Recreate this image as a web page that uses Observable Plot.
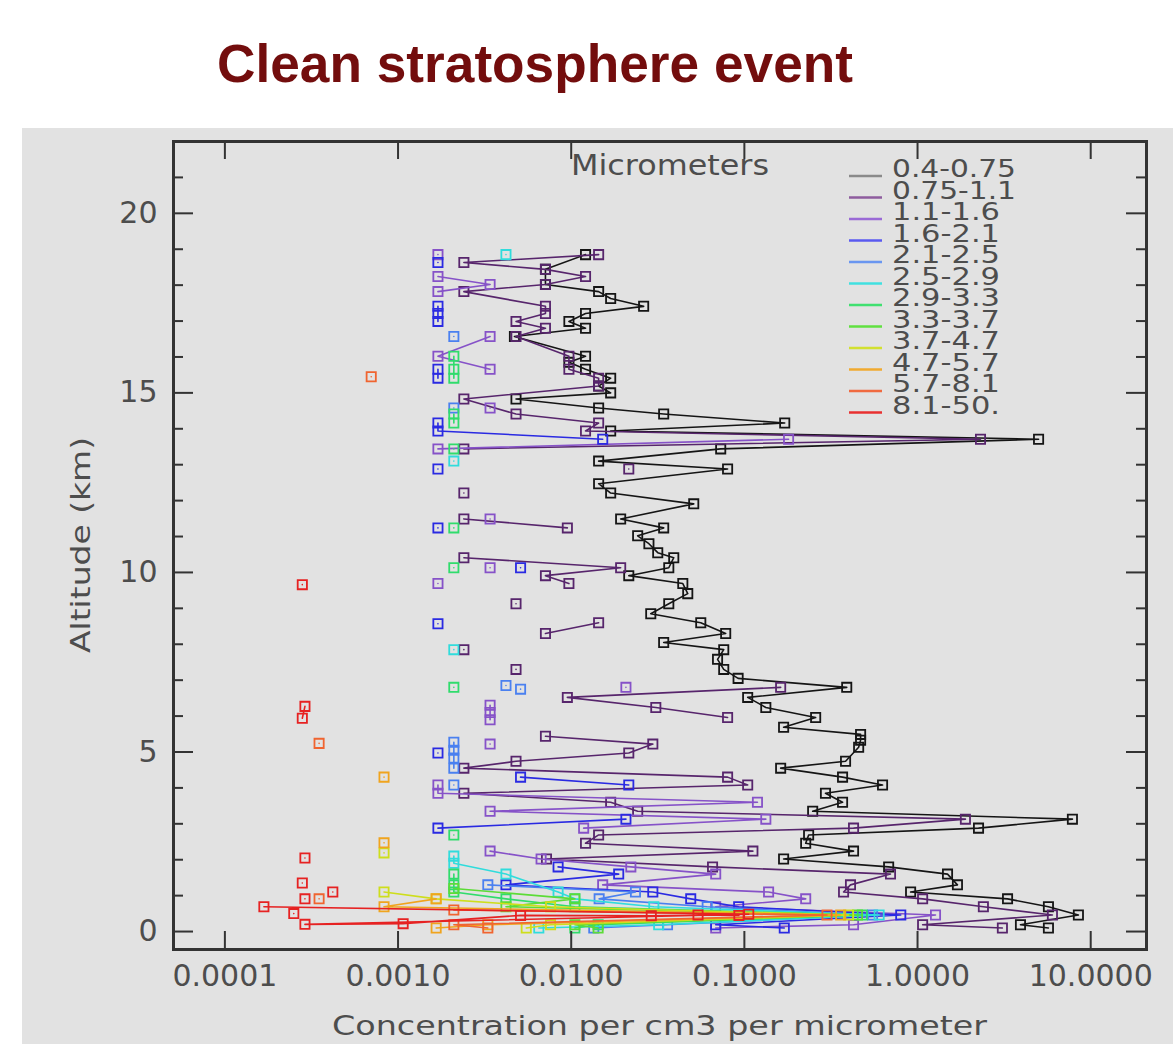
<!DOCTYPE html>
<html>
<head>
<meta charset="utf-8">
<script src="https://cdn.jsdelivr.net/npm/d3@7"></script>
<script src="https://cdn.jsdelivr.net/npm/@observablehq/plot@0.6"></script>
<style>
  html, body { margin: 0; padding: 0; background: #ffffff; overflow: hidden; }
  #wrap { position: relative; width: 1173px; height: 1044px; }
  #title { position: absolute; left: 0; top: 0; }
  #panel { position: absolute; left: 22px; top: 128px; width: 1151px; height: 916px; background: #e2e2e2; }
</style>
</head>
<body>
<div id="wrap">
  <svg id="title" width="1173" height="128">
    <text x="217" y="82" textLength="636" lengthAdjust="spacingAndGlyphs"
      style="font-family:'Liberation Sans',Arial,sans-serif;font-weight:bold;font-size:54px;fill:#730d0d">Clean stratosphere event</text>
  </svg>
  <div id="panel"></div>
</div>
<script>
// ---- size bins (micrometers) ----
const bins = ["0.4-0.75","0.75-1.1","1.1-1.6","1.6-2.1","2.1-2.5","2.5-2.9","2.9-3.3","3.3-3.7","3.7-4.7","4.7-5.7","5.7-8.1","8.1-50."];

// ---- series: [altitude km, concentration per cm3 per micrometer]; null = gap ----
const s0 = [[18.85,0.0121],[18.44,0.0071],[18.02,0.0071],[17.82,0.0144],[17.63,0.0169],[17.41,0.0262],[17.21,0.0121],[16.99,0.0097],[16.8,0.0121],[16.57,0.0047],[16.02,0.0121],[15.85,0.0097],[15.66,0.0121],[15.41,0.0169],[15.19,0.0144],[15.0,0.0169],[14.83,0.0048],[14.58,0.0144],[14.41,0.0342],[14.16,0.171],[13.94,0.0169],[13.71,5.0],[13.44,0.073],[13.1,0.0144],[12.88,0.080],[12.47,0.0144],[12.21,0.0169],[11.91,0.051],[11.49,0.0193],[11.24,0.0342],[11.02,0.0242],[10.8,0.0281],[10.55,0.0316],[10.41,0.0391],[10.13,0.0366],[9.91,0.0215],[9.69,0.0441],[9.41,0.0471],[9.13,0.0366],[8.85,0.0288],[8.6,0.056],[8.3,0.078],[8.05,0.0342],[7.85,0.076],[7.58,0.070],[7.3,0.076],[7.05,0.092],[6.8,0.39],[6.52,0.1045],[6.24,0.133],[5.96,0.258],[5.69,0.1685],[5.49,0.469],[5.33,0.469],[5.13,0.457],[4.74,0.384],[4.55,0.162],[4.3,0.369],[4.08,0.628],[3.85,0.294],[3.6,0.369],[3.35,0.248],[3.13,7.84],[2.88,2.25],[2.69,0.235],[2.46,0.226],[2.24,0.427],[2.02,0.1685],[1.8,0.681],[1.6,1.49],[1.3,1.70],[1.1,0.912],[0.91,3.31],[0.69,5.70],[0.46,8.49],[0.19,3.93],[0.1,5.70]];
const s1 = [[18.85,0.0144],[18.63,0.0024],[18.44,0.0071],[18.24,0.0121],[18.02,0.0071],[17.82,0.0024],[17.41,0.0071],[17.21,0.0071],[16.99,0.0048],[16.8,0.0071],[16.57,0.0048],[16.02,0.0097],[15.66,0.0097],[15.41,0.0144],[15.19,0.0144],[14.83,0.0024],[14.41,0.0048],[14.16,0.0144],[13.94,0.0121],[13.71,2.31],[13.44,0.0024],[13.2,null],[12.88,0.0215],[12.6,null],[12.21,0.0024],[11.9,null],[11.49,0.0024],[11.24,0.0095],[10.8,null],[10.41,0.0024],[10.13,0.0193],[9.91,0.0071],[9.69,0.0097],[9.4,null],[9.13,0.0048],[8.9,null],[8.6,0.0144],[8.3,0.0071],[8.1,null],[7.85,0.0024],[7.6,null],[7.3,0.0048],[7.05,null],[6.8,0.162],[6.52,0.0095],[6.24,0.0308],[5.96,0.080],[5.7,null],[5.44,0.0071],[5.22,0.0296],[4.97,0.0215],[4.74,0.0048],[4.55,0.0024],[4.3,0.080],[4.08,0.1045],[3.85,0.0024],[3.6,0.0169],[3.35,0.0242],[3.13,1.89],[2.88,0.427],[2.69,0.0144],[2.46,0.0121],[2.24,0.112],[2.02,0.0072],[1.8,0.0655],[1.6,0.698],[1.3,0.41],[1.1,0.374],[0.91,1.07],[0.69,2.40],[0.46,6.01],[0.19,1.07],[0.1,3.09]];
const s2 = [[18.85,0.0017],[18.5,null],[18.24,0.0017],[18.02,0.0034],[17.82,0.0017],[17.6,null],[16.57,0.0034],[16.02,0.0017],[15.66,0.0034],[15.4,null],[14.58,0.0034],[14.3,null],[13.71,0.18],[13.44,0.0017],[13.2,null],[11.49,0.0034],[11.3,null],[10.13,0.0034],[9.9,null],[9.69,0.0017],[9.5,null],[6.8,0.0207],[6.6,null],[6.3,0.0034],[6.1,0.0034],[5.9,0.0034],[5.6,null],[5.22,0.0034],[5.0,null],[4.08,0.0017],[3.85,0.0017],[3.6,0.119],[3.35,0.0034],[3.13,0.133],[2.88,0.0118],[2.7,null],[2.24,0.0034],[2.02,0.0067],[1.8,0.0221],[1.6,0.0683],[1.3,0.0152],[1.1,0.138],[0.91,0.226],[0.69,0.0683],[0.46,1.27],[0.19,0.427],[0.1,0.0683]];
const s3 = [[18.63,0.0017],[18.4,null],[17.41,0.0017],[17.21,0.0017],[16.99,0.0017],[16.8,null],[15.66,0.0017],[15.41,0.0017],[15.2,null],[14.16,0.0017],[13.94,0.0017],[13.71,0.0152],[13.5,null],[12.88,0.0017],[12.6,null],[11.24,0.0017],[11.0,null],[10.13,0.0051],[9.9,null],[8.57,0.0017],[8.3,null],[4.97,0.0017],[4.8,null],[4.3,0.0051],[4.08,0.0215],[3.9,null],[3.13,0.0207],[2.88,0.0017],[2.7,null],[1.8,0.0084],[1.6,0.0188],[1.3,0.0042],[1.1,0.0296],[0.91,0.049],[0.69,0.0927],[0.46,0.80],[0.19,0.0683],[0.1,0.17]];
const s4 = [[16.57,0.0021],[16.3,null],[14.58,0.0021],[14.3,null],[6.85,0.0042],[6.8,null],[6.75,0.0051],[6.5,null],[5.27,0.0021],[5.05,0.0021],[4.83,0.0021],[4.55,0.0021],[4.4,null],[4.08,0.0021],[3.9,null],[1.3,0.0033],[1.1,0.0235],[0.91,0.0145],[0.69,0.061],[0.46,0.55],[0.19,0.036],[0.1,0.0135]];
const s5 = [[18.85,0.0042],[18.6,null],[13.1,0.0021],[12.9,null],[7.85,0.0021],[7.6,null],[2.1,0.0021],[1.9,0.0021],[1.6,0.0042],[1.1,0.0084],[0.91,0.0105],[0.69,0.030],[0.46,0.60],[0.19,0.032],[0.1,0.0065]];
const s6 = [[16.02,0.0021],[15.66,0.0021],[15.41,0.0021],[15.2,null],[14.41,0.0021],[14.16,0.0021],[13.9,null],[13.44,0.0021],[13.2,null],[11.24,0.0021],[11.0,null],[10.13,0.0021],[9.9,null],[6.8,0.0021],[6.6,null],[2.69,0.0021],[2.5,null],[1.6,0.0021],[1.3,0.0021],[1.1,0.0021],[0.91,0.0042],[0.69,0.0105],[0.46,0.48],[0.19,0.0143],[0.1,0.0105]];
const s7 = [[1.2,0.0021],[0.91,0.0105],[0.69,0.0042],[0.46,0.45],[0.19,0.0105],[0.1,0.0143]];
const s8 = [[2.19,0.00083],[2.0,null],[1.1,0.00083],[0.91,0.00166],[0.69,0.0076],[0.46,0.40],[0.19,0.0076],[0.1,0.0055]];
const s9 = [[4.3,0.00083],[4.1,null],[2.47,0.00083],[2.3,null],[0.91,0.00166],[0.69,0.00083],[0.46,0.36],[0.19,0.0033],[0.1,0.00166]];
const s10 = [[15.45,0.0007],[15.2,null],[5.24,0.00035],[5.0,null],[0.91,0.00035],[0.75,null],[0.6,0.0021],[0.46,0.30],[0.19,0.0021],[0.1,0.0033]];
const s11 = [[9.66,0.00028],[9.4,null],[6.27,0.00029],[5.94,0.00028],[5.7,null],[2.05,0.00029],[1.8,null],[1.35,0.00028],[1.2,null],[1.1,0.00042],[1.0,null],[0.91,0.00029],[0.8,null],[0.69,0.000168],[0.48,0.106],[0.2,0.00029],[0.22,0.00107],[0.45,0.0051],[0.44,0.029],[0.46,0.054],[0.45,0.093],[0.3,null],[0.5,0.00025]];

// ---- axis ticks ----
const xTicks = [0.0001, 0.001, 0.01, 0.1, 1, 10];
const xTickLabels = ["0.0001", "0.0010", "0.0100", "0.1000", "1.0000", "10.0000"];
const yTicks = [0, 5, 10, 15, 20];
const yTickLabels = ["0", "5", "10", "15", "20"];
const yMinor = [1,2,3,4,6,7,8,9,11,12,13,14,16,17,18,19,21];

// ---- styles ----
const colors = ["#151515","#57256c","#8652c8","#2a2ae2","#4a80f0","#30dcdc","#30dc6c","#5cdc36","#cede1c","#f0a41e","#f06430","#e62222"];
const legendColors = ["#8a8a8a","#8e5c9e","#9a6ad6","#5a5af0","#6a96f0","#40e0e0","#40e070","#60e040","#d2e030","#f0aa30","#f06a40","#e83030"];
const textColor = "#4d4d4d";

const series = [s0,s1,s2,s3,s4,s5,s6,s7,s8,s9,s10,s11];
const rows = series.map((s, i) => s.map(([alt, conc]) => ({bin: bins[i], alt, conc: conc == null ? NaN : conc})));

const W = 1151, H = 916, mL = 151, mR = 27, mT = 13, mB = 95;
const fw = W - mL - mR, fh = H - mT - mB;

const marks = [];
rows.forEach((r, i) => {
  marks.push(Plot.line(r, {x: "conc", y: "alt", stroke: colors[i], strokeWidth: 1.6}));
  marks.push(Plot.dot(r.filter(d => !isNaN(d.conc)), {x: "conc", y: "alt", symbol: "square", r: 5.2, stroke: colors[i], strokeWidth: 1.8, fill: "none"}));
});

const plot = Plot.plot({
  width: W, height: H,
  marginLeft: mL, marginRight: mR, marginTop: mT, marginBottom: mB,
  x: {type: "log", domain: [5.05e-5, 21], axis: null},
  y: {domain: [-0.5, 22], axis: null},
  style: {background: "transparent", fontFamily: "'DejaVu Sans', sans-serif"},
  marks: [
    ...marks,
    // inward ticks
    Plot.ruleX(xTicks, {x: d => d, insetTop: fh - 18, stroke: "#333", strokeWidth: 2}),
    Plot.ruleX(xTicks, {x: d => d, insetBottom: fh - 18, stroke: "#333", strokeWidth: 2}),
    Plot.ruleY(yTicks, {y: d => d, insetRight: fw - 20, stroke: "#333", strokeWidth: 2}),
    Plot.ruleY(yTicks, {y: d => d, insetLeft: fw - 20, stroke: "#333", strokeWidth: 2}),
    Plot.ruleY(yMinor, {y: d => d, insetRight: fw - 10, stroke: "#333", strokeWidth: 2}),
    Plot.ruleY(yMinor, {y: d => d, insetLeft: fw - 10, stroke: "#333", strokeWidth: 2}),
    // tick labels
    Plot.text(xTicks, {x: d => d, text: (d, i) => xTickLabels[i], frameAnchor: "bottom", dy: 36, fontSize: 30, fill: textColor}),
    Plot.text(yTicks, {y: d => d, text: (d, i) => yTickLabels[i], frameAnchor: "left", dx: -16, textAnchor: "end", fontSize: 30, fill: textColor}),
    Plot.frame({stroke: "#333", strokeWidth: 3})
  ]
});

document.getElementById("panel").appendChild(plot);

// ---- axis titles and legend ----
const svg = d3.select(plot);
const ns = (sel) => sel.style("font-family", "'DejaVu Sans', sans-serif").attr("fill", textColor);

ns(svg.append("text"))
  .attr("x", mL + fw / 2).attr("y", 907)
  .attr("text-anchor", "middle")
  .attr("font-size", 27)
  .attr("textLength", 655).attr("lengthAdjust", "spacingAndGlyphs")
  .text("Concentration per cm3 per micrometer");

ns(svg.append("text"))
  .attr("transform", `translate(68, ${mT + fh / 2}) rotate(-90)`)
  .attr("text-anchor", "middle")
  .attr("font-size", 27)
  .attr("textLength", 216).attr("lengthAdjust", "spacingAndGlyphs")
  .text("Altitude (km)");

ns(svg.append("text"))
  .attr("x", 549).attr("y", 47)
  .attr("text-anchor", "start")
  .attr("font-size", 28)
  .attr("textLength", 198).attr("lengthAdjust", "spacingAndGlyphs")
  .text("Micrometers");

const lg = svg.append("g");
bins.forEach((b, i) => {
  const y = 48 + 21.5 * i;
  lg.append("line").attr("x1", 827).attr("x2", 860).attr("y1", y).attr("y2", y)
    .attr("stroke", legendColors[i]).attr("stroke-width", 2.5);
  ns(lg.append("text"))
    .attr("x", 870).attr("y", y + 1)
    .attr("text-anchor", "start")
    .attr("font-size", 25)
    .attr("textLength", b.length >= 8 ? 124 : 108).attr("lengthAdjust", "spacingAndGlyphs")
    .text(b);
});
</script>
</body>
</html>
